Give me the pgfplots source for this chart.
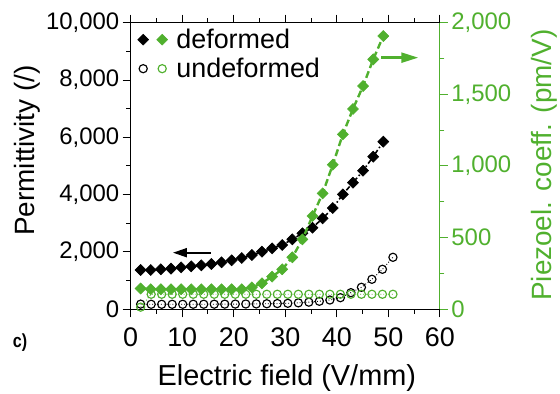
\documentclass[border=0pt]{standalone}
\usepackage{fontspec}
\setmainfont{Liberation Sans}
\usepackage{pgfplots}
\usepackage{pgfplotstable}
\pgfplotsset{compat=1.18}
\usetikzlibrary{arrows.meta}
\definecolor{pgreen}{RGB}{80,176,46}

\pgfplotstableread{
x y
1.93 1371
3.89 1371
5.85 1395
7.82 1418
9.78 1464
11.74 1499
13.70 1534
15.66 1581
17.63 1639
19.59 1709
21.55 1790
23.51 1895
25.47 2011
27.44 2127
29.40 2244
31.36 2441
33.32 2651
35.28 2848
37.25 3174
39.21 3534
41.17 4011
43.13 4418
45.09 4837
47.06 5326
49.02 5849
}\blackdef

\pgfplotstableread{
x y
1.93 180
3.97 175
6.01 175
8.05 175
10.09 175
12.13 176
14.17 177
16.21 178
18.25 180
20.29 182
22.33 185
24.37 188
26.41 193
28.45 200
30.49 209
32.53 225
34.57 249
36.61 280
38.65 324
40.69 405
42.73 580
44.77 768
46.81 1047
48.85 1396
50.89 1814
}\blackundef

\pgfplotstableread{
x y
1.93 145
3.89 140
5.85 140
7.82 140
9.78 140
11.74 140
13.70 140
15.66 140
17.63 140
19.59 140
21.55 140
23.51 153
25.47 181
27.44 228
29.40 279
31.36 363
33.32 488
35.28 651
37.25 809
39.21 1009
41.17 1221
43.13 1398
45.09 1558
47.06 1744
49.02 1907
}\greendef

\pgfplotstableread{
x y
1.93 15
3.97 105
6.01 105
8.05 105
10.09 105
12.13 105
14.17 105
16.21 105
18.25 105
20.29 105
22.33 105
24.37 105
26.41 105
28.45 105
30.49 105
32.53 105
34.57 105
36.61 105
38.65 105
40.69 105
42.73 105
44.77 105
46.81 105
48.85 105
50.89 105
}\greenundef

\pgfplotsset{
  common/.style={
    scale only axis, width=309.2bp, height=286.6bp,
    at={(0,0)}, anchor=south west,
    xmin=0, xmax=60,
    tick align=outside,
    major tick length=8bp, minor tick length=4.5bp,
    axis line style={line width=1bp},
    every tick/.style={line width=1bp},
    /pgf/number format/assume math mode=true,
    scaled y ticks=false,
    clip mode=individual,
  },
  dmark/.style={mark=square*, mark size=3.9pt, mark options={rotate=45, solid, line width=0.6bp, draw=#1, fill=#1}},
  cmark/.style={mark=o, mark size=4.1pt, mark options={solid, line width=1.15bp, draw=#1}},
}

\begin{document}
\begin{tikzpicture}
\useasboundingbox (-130.7bp,-84.7bp) rectangle (429.3bp,309.3bp);
\begin{axis}[common,
  ymin=0, ymax=10000,
  xtick={0,10,...,60}, minor x tick num=1,
  ytick={0,2000,...,10000}, minor y tick num=1,
  xtick pos=both, ytick pos=left,
  xticklabel style={font=\fontsize{27}{30}\selectfont, yshift=-7bp},
  yticklabel style={font=\fontsize{24}{28}\selectfont},
  xlabel={Electric field (V/mm)},
  ylabel={Permittivity (/)},
  xlabel style={font=\fontsize{29}{32}\selectfont, at={(axis description cs:0.505,-0.2676)}, anchor=base},
  ylabel style={font=\fontsize{28}{32}\selectfont, at={(axis description cs:-0.335,0.554)}, anchor=center},
  legend style={at={(axis description cs:0.022,0.985)}, anchor=north west, draw=none, fill=none,
    font=\fontsize{27}{30}\selectfont, inner sep=0pt, row sep=4bp,
    nodes={inner xsep=3bp, inner ysep=2bp}},
  legend cell align=left,
]
\addlegendimage{legend image code/.code={
  \draw[only marks, mark=square*, mark size=3.9pt, mark options={rotate=45, black, fill=black}] plot coordinates {(0bp,0bp)};
  \draw[only marks, mark=square*, mark size=3.9pt, mark options={rotate=45, pgreen, fill=pgreen}] plot coordinates {(19bp,0bp)};
  \path (30bp,0bp);
}}
\addlegendentry{deformed}
\addlegendimage{legend image code/.code={
  \draw[only marks, mark=o, mark size=4.1pt, mark options={black, line width=1.15bp}] plot coordinates {(0bp,0bp)};
  \draw[only marks, mark=o, mark size=4.1pt, mark options={pgreen, line width=1.15bp}] plot coordinates {(19bp,0bp)};
  \path (30bp,0bp);
}}
\addlegendentry{undeformed}
\addplot[black, line width=0.9bp, dotted, cmark=black, forget plot] table {\blackundef};
\addplot[black, line width=1.6bp, dash pattern=on 5bp off 2.5bp on 1.5bp off 2.5bp, dmark=black, forget plot] table {\blackdef};
\draw[black, line width=2bp, -{Triangle[length=14bp, width=9bp]}] (axis cs:15.5,1975) -- (axis cs:8.2,1975);
\node[font=\bfseries\fontsize{19}{22}\selectfont, anchor=center] at (axis description cs:-0.358,-0.115) {\scalebox{0.85}[1]{c)}};
\end{axis}
\begin{axis}[common,
  ymin=0, ymax=2000,
  axis y line*=right, axis x line=none,
  ytick={0,500,...,2000}, minor y tick num=1,
  y axis line style={pgreen, line width=1.2bp},
  every y tick/.style={pgreen, line width=1bp},
  yticklabel style={font=\fontsize{24}{28}\selectfont, text=pgreen},
  ylabel={Piezoel. coeff. (pm/V)},
  ylabel style={font=\fontsize{28}{32}\selectfont, text=pgreen, at={(axis description cs:1.338,0.503)}, anchor=center},
]
\addplot[pgreen, line width=0.9bp, dotted, cmark=pgreen] table {\greenundef};
\addplot[pgreen, line width=2.4bp, dash pattern=on 7bp off 3.5bp, dmark=pgreen] table {\greendef};
\draw[pgreen, line width=2.4bp, -{Triangle[length=17bp, width=10bp]}] (axis cs:48.6,1756) -- (axis cs:55.8,1756);
\end{axis}
\end{tikzpicture}
\end{document}
